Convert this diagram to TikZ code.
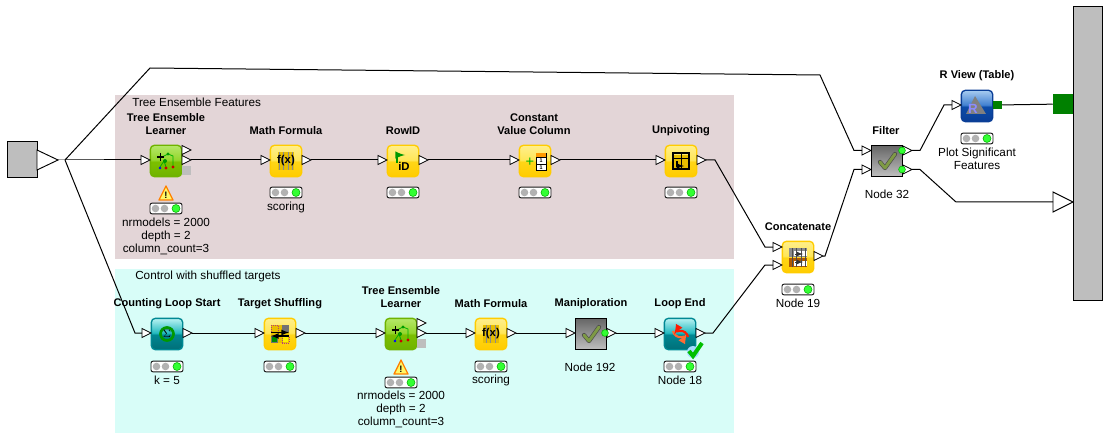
\documentclass[tikz,border=0pt]{standalone}
\usepackage{fontspec}
\setmainfont{Liberation Sans}
\usetikzlibrary{shapes.geometric,calc}
\definecolor{yA}{HTML}{FFCC00}\definecolor{yB}{HTML}{FFD618}\definecolor{yC}{HTML}{FFE655}\definecolor{yD}{HTML}{FFEF8C}
\definecolor{gA}{HTML}{6FB300}\definecolor{gB}{HTML}{7CC000}\definecolor{gC}{HTML}{93D52A}\definecolor{gD}{HTML}{B5E86A}
\definecolor{tA}{HTML}{006F78}\definecolor{tB}{HTML}{008893}\definecolor{tC}{HTML}{1FB8BE}\definecolor{tD}{HTML}{B8F2F2}
\definecolor{uA}{HTML}{0A3E96}\definecolor{uB}{HTML}{0C4CA8}\definecolor{uC}{HTML}{3F7FD0}\definecolor{uD}{HTML}{A7CBF0}
\definecolor{olive1}{HTML}{7E9A45}
\definecolor{darky}{HTML}{E8BE00}
\pgfdeclareverticalshading{yelsh}{100bp}{color(0bp)=(yA);color(25bp)=(yA);color(50bp)=(yB);color(51bp)=(yC);color(75bp)=(yD);color(100bp)=(yD)}
\pgfdeclareverticalshading{grnsh}{100bp}{color(0bp)=(gA);color(25bp)=(gA);color(50bp)=(gB);color(51bp)=(gC);color(75bp)=(gD);color(100bp)=(gD)}
\pgfdeclareverticalshading{tealsh}{100bp}{color(0bp)=(tA);color(25bp)=(tA);color(50bp)=(tB);color(51bp)=(tC);color(75bp)=(tD);color(100bp)=(tD)}
\pgfdeclareverticalshading{blusb}{100bp}{color(0bp)=(uA);color(25bp)=(uA);color(50bp)=(uB);color(51bp)=(uC);color(75bp)=(uD);color(100bp)=(uD)}
\pgfdeclareverticalshading{metsh}{100bp}{color(0bp)=(black!15);color(25bp)=(black!25);color(75bp)=(black!60);color(100bp)=(black!72)}
\definecolor{brownbg}{HTML}{E3D5D7}
\definecolor{cyanbg}{HTML}{D8FDF8}
\definecolor{ygreen}{HTML}{008000}
\definecolor{boxgrey}{HTML}{BEBEBE}
\tikzset{
 x=0.75pt,y=-0.75pt,
 wire/.style={draw=black,line width=0.75pt},
 plain/.style={font=\fontsize{8.8pt}{9.75pt}\selectfont,align=center,inner sep=0pt,text=black,yshift=-0.6pt},
 head/.style={plain,font=\fontsize{8.3pt}{9.75pt}\selectfont\bfseries},
 porttri/.style={draw=black,fill=white,line width=0.6pt},
 lamp/.style={draw=black!90,fill=white,rounded corners=1.5pt,line width=0.7pt},
 mknode/.style={draw=black,line width=0.7pt,minimum size=23.5pt,inner sep=0pt,shade,shading=metsh},
}
\newcommand{\inport}[3]{\draw[porttri] (#2-9,#3-4.5) -- (#2,#3) -- (#2-9,#3+4.5) -- cycle; \coordinate (#1) at (#2-9,#3);}
\newcommand{\outport}[3]{\draw[porttri] (#2,#3-4.5) -- (#2+9,#3) -- (#2,#3+4.5) -- cycle; \coordinate (#1) at (#2+9,#3);}
\newcommand{\traffic}[3]{\node[lamp,minimum width=24pt,minimum height=8pt,inner sep=0pt] (#1) at (#2,#3) {};
 \fill[black!30] (#2-10.5,#3) circle (3.8);\fill[black!30] (#2-1.5,#3) circle (3.8);
 \draw[green!70!black,fill=green!80!white,line width=0.4pt] (#2+10,#3) circle (4);}
\newcommand{\icon}[4]{\node[rounded corners=3pt,minimum size=23.5pt,inner sep=0pt,draw=#4,line width=1pt,shade,shading=#3] (#1) at (#2) {};}
\newcommand{\warn}[2]{\draw[orange,fill=yellow!60!white,line width=1pt,line join=round] (#1-7,#2+7) -- (#1,#2-7) -- (#1+7,#2+7) -- cycle; \node[font=\fontsize{7pt}{7pt}\selectfont\bfseries,inner sep=0pt] at (#1,#2+2) {!};}
\newcommand{\chkmark}[1]{\draw[black!70,line width=3.2pt,line cap=round,line join=round] ($(#1)+(-7,1)$) -- ($(#1)+(-2,7)$) -- ($(#1)+(8,-7)$);\draw[olive1,line width=2.2pt,line cap=round,line join=round] ($(#1)+(-7,1)$) -- ($(#1)+(-2,7)$) -- ($(#1)+(8,-7)$);}
\newcommand{\fx}[1]{\fill[darky] ($(#1)+(-8,-9)$) rectangle ($(#1)+(8,9)$);\draw[black!45,line width=0.25pt] ($(#1)+(-8,-9)$) grid[step=4.5] ($(#1)+(8,9)$); \node[font=\fontsize{8.5pt}{8.5pt}\selectfont\bfseries,inner sep=0pt] at (#1) {f(x)};}
\newcommand{\treeic}[1]{\draw[green!70!black,line width=0.6pt] ($(#1)+(-6,-3)$) -- ($(#1)+(2,-7)$) -- ($(#1)+(7,-5)$) -- ($(#1)+(7,5)$) ($(#1)+(-6,6)$) -- ($(#1)+(-2,0)$) -- ($(#1)+(0,6)$);
 \draw[black,line width=1.1pt] ($(#1)+(-9,-4)$) -- ($(#1)+(-2,-4)$) ($(#1)+(-5.5,-8)$) -- ($(#1)+(-5.5,0)$);
 \fill[green!60!black] ($(#1)+(-1,0)$) circle (2);\fill[red!80!black] ($(#1)+(7,6)$) circle (1.7);\fill[blue] ($(#1)+(-6,7)$) circle (1.4);\fill[red!80!black] ($(#1)+(0,7)$) circle (1.7);\fill[green!60!black] ($(#1)+(2,-7)$) circle (1.6);}
\newcommand{\shufic}[1]{\fill[darky] ($(#1)+(-9,-9)$) rectangle ($(#1)+(9,9)$);\fill[black!55] ($(#1)+(2,-9)$) rectangle ($(#1)+(9,-2)$);\fill[black!55] ($(#1)+(-9,2)$) rectangle ($(#1)+(-2,9)$);
 \fill[green!55!black] ($(#1)+(-8,3)$) rectangle ($(#1)+(-3,8)$);\fill[yellow] ($(#1)+(3,3)$) rectangle ($(#1)+(8,8)$);
 \draw[magenta!70!black,line width=0.6pt,densely dotted] ($(#1)+(-9,-9)$) rectangle ($(#1)+(-2,-2)$) ($(#1)+(2,2)$) rectangle ($(#1)+(9,9)$);
 \draw[black,line width=1pt,-latex] ($(#1)+(-9,-1.5)$) -- ($(#1)+(9,-1.5)$);\draw[black,line width=1pt,latex-] ($(#1)+(-9,2)$) -- ($(#1)+(9,2)$);}
\newcommand{\tabic}[1]{\fill[black!45] ($(#1)+(-9,-9)$) rectangle ($(#1)+(9,0)$);\fill[white] ($(#1)+(-4,-6)$) rectangle ($(#1)+(9,-1)$);
 \fill[orange!70!black] ($(#1)+(-9,1)$) rectangle ($(#1)+(9,10)$);\fill[white] ($(#1)+(-4,4)$) rectangle ($(#1)+(9,9)$);
 \draw[black!70,line width=0.35pt] ($(#1)+(-9,-9)$) grid[step=4.5] ($(#1)+(9,10)$);
 \draw[black!80,line width=0.6pt,-latex] ($(#1)+(-3,-3)$) -- ($(#1)+(5,-3)$);\draw[black!80,line width=0.6pt,-latex] ($(#1)+(-3,5)$) -- ($(#1)+(5,5)$);}
\begin{document}
\begin{tikzpicture}
\useasboundingbox (0,0) rectangle (1110,442);
\fill[brownbg] (115,95) rectangle (734,259);
\fill[cyanbg] (115,269) rectangle (734,433);
\node[plain,anchor=west] (t1) at (132,102) {Tree Ensemble Features};
\node[plain,anchor=west] (t2) at (135,276) {Control with shuffled targets};
% boundary
\node[draw=black,fill=boxgrey,line width=0.7pt,minimum width=22.5pt,minimum height=27.5pt,inner sep=0pt] (lbox) at (22,159.5) {};
\draw[fill=white,line width=0.7pt] (37,150) -- (58,160) -- (37,170) -- cycle;
\coordinate (ltip) at (58,160);
\coordinate (junc) at (65,160);
\node[draw=black,fill=boxgrey,line width=0.7pt,minimum width=21.7pt,minimum height=220.5pt,inner sep=0pt] (rbox) at (1087.5,153) {};
\node[fill=ygreen,minimum size=15pt,inner sep=0pt] (rsq) at (1063,104) {};
\draw[fill=white,line width=0.7pt] (1053,192) -- (1073,202) -- (1053,212) -- cycle;
\coordinate (rtri) at (1053,202);
% row one icons
\icon{a1}{166,161}{grnsh}{gA}
\icon{a2}{286,161}{yelsh}{yA}
\icon{a3}{403,161}{yelsh}{yA}
\icon{a4}{535,161}{yelsh}{yA}
\icon{a5}{681,161}{yelsh}{yA}
% row two icons
\icon{b1}{167,334}{tealsh}{tB}
\icon{b2}{280,334}{yelsh}{yA}
\icon{b3}{401,334}{grnsh}{gA}
\icon{b4}{491,334}{yelsh}{yA}
\node[mknode] (b5) at (591,334) {};
\icon{b6}{680,334}{tealsh}{tB}
\icon{c1}{798,257}{yelsh}{yA}
\node[mknode] (f1) at (887,161) {};
\icon{r1}{977,106}{blusb}{uA}
% glyphs
\treeic{a1}\treeic{b3}\fx{a2}\fx{b4}
\node[font=\fontsize{8.5pt}{8.5pt}\selectfont\bfseries,inner sep=0pt] at (404,166) {iD};
\draw[green!60!black,line width=1.5pt,-latex] (397,163) -- (397,155) -- (405,155);
\node[font=\fontsize{11pt}{11pt}\selectfont,text=green!70!black,inner sep=0pt] at (530,162) {+};
\draw[black,fill=white,line width=0.7pt] (536,153) rectangle (546,170);
\fill[orange!80!yellow] (536,153) rectangle (546,157);
\draw[black,line width=0.5pt] (536,157) -- (546,157) (536,164) -- (546,164);
\node[font=\fontsize{4pt}{4pt}\selectfont\bfseries,inner sep=0pt] at (541,160.3) {1};
\node[font=\fontsize{4pt}{4pt}\selectfont\bfseries,inner sep=0pt] at (541,167.3) {1};
\fill[darky] (673,155) rectangle (689,169);
\draw[black,line width=0.9pt] (673,153) rectangle (689,169);
\draw[black,line width=0.6pt] (673,158) -- (689,158) (681,153) -- (681,169);
\draw[black,line width=0.9pt,-latex] (677,161) -- (677,166) -- (684,166);
\shufic{b2}\tabic{c1}
\draw[green!60!black,line width=2pt] (167,334) circle (6.5);
\node[font=\fontsize{8pt}{8pt}\selectfont\bfseries,inner sep=0pt,text=black] at (167,334) {$\Sigma$};
\draw[red!45!orange!80!white,line width=1.6pt,-latex] (673,331) arc (170:30:7.5);
\draw[red!80!orange,line width=1.6pt,-latex] (688,337) arc (-10:-150:7.5);
\chkmark{b5}
\chkmark{f1}
\fill[blue!40!cyan!35!white] (693,352) circle (6);
\draw[green!75!black,line width=3pt] (689,351) -- (693,356) -- (702,343);
\fill[black!50] (975,96) -- (986,114) -- (966,114) -- cycle;
\node[font=\fontsize{10pt}{10pt}\selectfont\bfseries,text=blue!45!white,inner sep=0pt] at (973,109) {R};
% ports
\inport{pa1}{150}{160}\outport{qa1}{182}{160}\outport{qa1b}{182}{150}
\fill[boxgrey] (182,166) rectangle (191,175);
\inport{pa2}{270}{160}\outport{qa2}{302}{160}
\inport{pa3}{387}{160}\outport{qa3}{419}{160}
\inport{pa4}{519}{160}\outport{qa4}{551}{160}
\inport{pa5}{665}{160}\outport{qa5}{697}{160}
\inport{pb1}{151}{333}\outport{qb1}{183}{333}
\inport{pb2}{264}{333}\outport{qb2}{296}{333}
\inport{pb3}{385}{333}\outport{qb3}{417}{333}\outport{qb3b}{417}{323}
\fill[boxgrey] (417,339) rectangle (426,348);
\inport{pb4}{475}{333}\outport{qb4}{507}{333}
\inport{pb5}{575}{333}\outport{qb5}{607}{333}
\inport{pb6}{664}{333}\outport{qb6}{696}{333}
\inport{pc1}{782}{247}\inport{pc1b}{782}{265}\outport{qc1}{814}{256}
\inport{pf1}{871}{150.5}\inport{pf1b}{871}{169.5}\outport{qf1}{903}{150.5}\outport{qf1b}{903}{169.5}
\inport{pr1}{961}{105}
\node[fill=ygreen,minimum size=6.7pt,inner sep=0pt] (rport) at (997.5,105) {};
% green lamps at metanode outlets
\foreach \p/\q in {605/333,902/150.5,902/169.5}{\draw[green!70!black,fill=green!80!white,line width=0.4pt] (\p,\q) circle (3.4);}
% bends
\coordinate (k1) at (150,68);\coordinate (k2) at (820,75);\coordinate (k3) at (854,150.5);
\coordinate (k4) at (854,169.5);\coordinate (k5) at (825,256);
\coordinate (k6) at (135,333);
\coordinate (k7) at (715,160);\coordinate (k8) at (765,247);
\coordinate (k9) at (713,333);\coordinate (k10) at (765,265);
\coordinate (k11) at (920,150.5);\coordinate (k12) at (944,105);
\coordinate (k13) at (920,169.5);\coordinate (k14) at (956,202);
% wires
\draw[wire] (ltip) -- (junc) -- (pa1);
\draw[wire] (junc) -- (k1) -- (k2) -- (k3) -- (pf1);
\draw[wire] (junc) -- (k6) -- (pb1);
\draw[wire] (qa1) -- (pa2);\draw[wire] (qa2) -- (pa3);\draw[wire] (qa3) -- (pa4);\draw[wire] (qa4) -- (pa5);
\draw[wire] (qb1) -- (pb2);\draw[wire] (qb2) -- (pb3);\draw[wire] (qb3) -- (pb4);\draw[wire] (qb4) -- (pb5);\draw[wire] (qb5) -- (pb6);
\draw[wire] (qa5) -- (k7) -- (k8) -- (pc1);
\draw[wire] (qb6) -- (k9) -- (k10) -- (pc1b);
\draw[wire] (qc1) -- (k5) -- (k4) -- (pf1b);
\draw[wire] (qf1) -- (k11) -- (k12) -- (pr1);
\draw[wire] (qf1b) -- (k13) -- (k14) -- (rtri);
\draw[wire] (rport) -- (rsq);
% lights
\traffic{la1}{166}{208.5}\traffic{la2}{286}{192.5}\traffic{la3}{403}{192.5}\traffic{la4}{535}{192.5}\traffic{la5}{681}{192.5}
\traffic{lb1}{167}{366.5}\traffic{lb2}{280}{366.5}\traffic{lb3}{401}{382.5}\traffic{lb4}{491}{366.5}\traffic{lb6}{680}{366.5}
\traffic{lc1}{798}{289.5}\traffic{lr1}{977}{138.5}
\warn{166}{193}\warn{401}{367}
% labels
\node[head] (h1) at (166,123.5) {Tree Ensemble\\Learner};
\node[head] (h2) at (286,130) {Math Formula};
\node[head] (h3) at (403,130) {RowID};
\node[head] (h4) at (534,123.5) {Constant\\Value Column};
\node[head] (h5) at (681,130) {Unpivoting};
\node[head] (h6) at (167,303) {Counting Loop Start};
\node[head] (h7) at (280,303) {Target Shuffling};
\node[head] (h8) at (401,296.5) {Tree Ensemble\\Learner};
\node[head] (h9) at (491,303) {Math Formula};
\node[head] (h10) at (591,303) {Maniploration};
\node[head] (h11) at (680,303) {Loop End};
\node[head] (h12) at (798,226) {Concatenate};
\node[head] (h13) at (886,130) {Filter};
\node[head] (h14) at (977,75) {R View (Table)};
\node[plain] (n1) at (166,236) {nrmodels = 2000\\depth = 2\\column\_count=3};
\node[plain] (n2) at (286,207) {scoring};
\node[plain] (n3) at (167,380) {k = 5};
\node[plain] (n4) at (401,409) {nrmodels = 2000\\depth = 2\\column\_count=3};
\node[plain] (n5) at (491,380) {scoring};
\node[plain] (n6) at (590,367) {Node 192};
\node[plain] (n7) at (680,380) {Node 18};
\node[plain] (n8) at (798,303) {Node 19};
\node[plain] (n9) at (887,194) {Node 32};
\node[plain] (n10) at (977,158.5) {Plot Significant\\Features};
\end{tikzpicture}
\end{document}
